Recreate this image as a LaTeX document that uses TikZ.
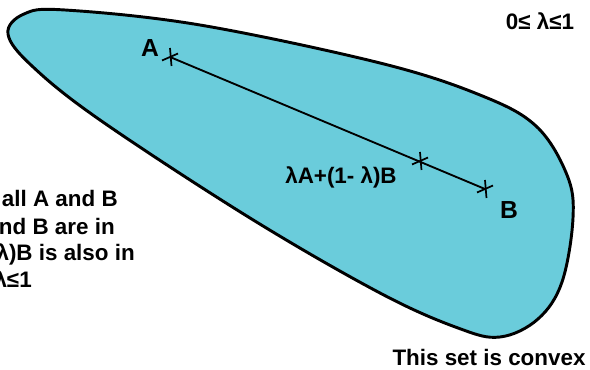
\documentclass[tikz,border=0pt]{standalone}
\usepackage{fontspec}
\setmainfont{Liberation Sans}
\definecolor{setfill}{RGB}{106,204,219}
\begin{document}
\begin{tikzpicture}[x=0.75pt,y=-0.75pt,
  txt/.style={font=\fontsize{16.8}{18}\selectfont\bfseries, inner sep=0pt},
  ptlabel/.style={font=\fontsize{18.5}{20}\selectfont\bfseries, inner sep=0pt},
  tick/.style={line width=1.3pt},
  seg/.style={line width=1.4pt}]
\useasboundingbox (0,0) rectangle (590,370);
\begin{scope}
\clip (0,0) rectangle (590,370);
% convex set
\draw[line width=2.2pt, fill=setfill] plot[smooth cycle, tension=0.6] coordinates {
  (8,34) (24,14) (65,10) (200,25) (380,63) (480,95) (536,126)
  (567,175) (573,218) (562,282) (538,319) (500,337) (458,328)
  (380,293) (250,218) (100,120) (32,66)};
% points
\coordinate (A) at (170,57);
\coordinate (M) at (420,161);
\coordinate (B) at (485,189);
\draw[seg] (A) -- (B);
\foreach \p in {A,M,B}{
  \draw[tick] (\p) ++(0,-9) -- ++(1.5,18);
  \draw[tick] (\p) ++(-8,3.5) -- ++(16,-7);
}
\node[ptlabel] (la) at (150,48) {A};
\node[ptlabel] (lb) at (509,210) {B};
\node[txt] (lm) at (341,177) {λA+(1- λ)B};
\node[txt] (cond) at (540,21) {0≤ λ≤1};
\node[txt] (conv) at (489,357) {This set is convex};
% left text, cut off by the picture's edge
\node[txt, anchor=east] (t1) at (118,198) {all A and B};
\node[txt, anchor=east] (t2) at (115,226) {nd B are in};
\node[txt, anchor=east] (t3) at (135,254) {λ)B is also in};
\node[txt, anchor=east] (t4) at (32,279) {λ≤1};
\end{scope}
\end{tikzpicture}
\end{document}
